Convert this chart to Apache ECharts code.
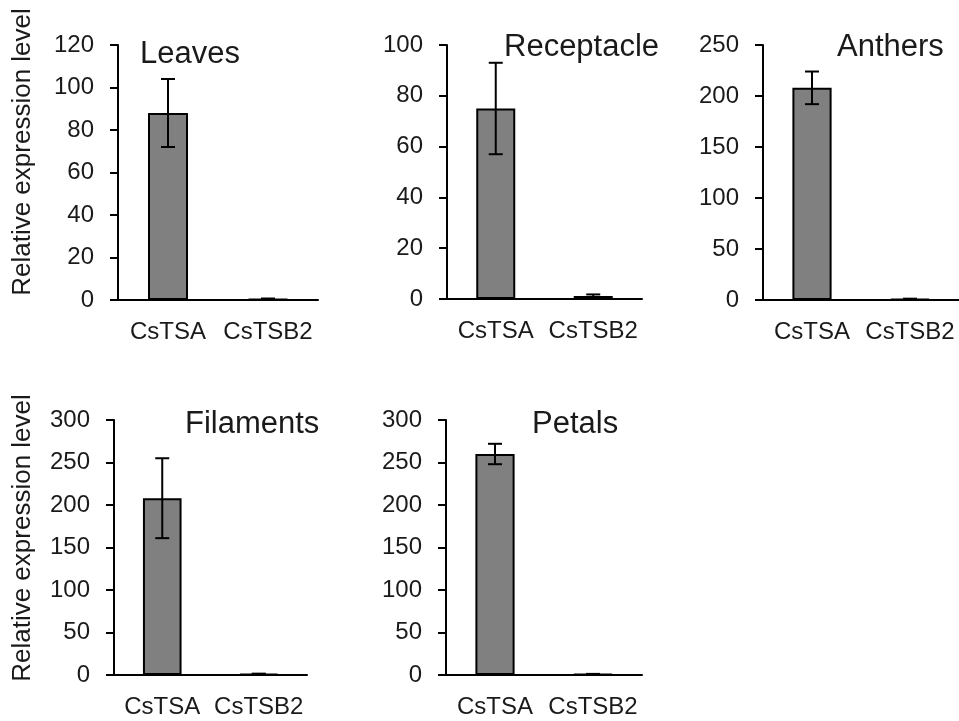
<!DOCTYPE html>
<html>
<head>
<meta charset="utf-8">
<script src="https://cdn.jsdelivr.net/npm/echarts@6/dist/echarts.min.js"></script>
<style>
  html, body { margin: 0; padding: 0; background: #fff; }
  #chart { width: 959px; height: 721px; }
</style>
</head>
<body>
<div id="chart"></div>
<script>
// data
const categories = ["CsTSA", "CsTSB2"];
const tissues = ["Leaves", "Receptacle", "Anthers", "Filaments", "Petals"];
const tsaMeans = [88, 75, 208, 208, 260];
const tsaErrors = [16, 18, 16, 47, 12];
const tsb2Means = [0.5, 1.2, 1, 1.2, 1];
const tsb2Errors = [0.2, 0.6, 0.3, 0.4, 0.3];
const yMax = [120, 100, 250, 300, 300];
const yStep = [20, 20, 50, 50, 50];
const yName = "Relative expression level";

// panel placement
const grids = [
  { left: 118, top: 45, width: 200, height: 255 },
  { left: 447, top: 45, width: 195, height: 254 },
  { left: 763, top: 45, width: 196, height: 255 },
  { left: 114, top: 420, width: 193, height: 255 },
  { left: 446, top: 420, width: 196, height: 255 },
];
const titlePos = [
  { left: 140, top: 39 },
  { left: 504, top: 32 },
  { left: 837, top: 32 },
  { left: 185, top: 409 },
  { left: 532, top: 409 },
];

const font = "Liberation Sans";
const textColor = "#1a1a1a";

const chart = echarts.init(document.getElementById("chart"));

const errorBarRender = (params, api) => {
  const x = api.value(0);
  const m = api.value(1);
  const e = api.value(2);
  const top = api.coord([x, m + e]);
  const bot = api.coord([x, m - e]);
  const hw = 7;
  const style = { stroke: "#000", lineWidth: 2 };
  return {
    type: "group",
    children: [
      { type: "line", shape: { x1: top[0], y1: top[1], x2: bot[0], y2: bot[1] }, style },
      { type: "line", shape: { x1: top[0] - hw, y1: top[1], x2: top[0] + hw, y2: top[1] }, style },
      { type: "line", shape: { x1: bot[0] - hw, y1: bot[1], x2: bot[0] + hw, y2: bot[1] }, style },
    ],
  };
};

const option = {
  animation: false,
  backgroundColor: "#fff",
  title: tissues.map((t, i) => ({
    text: t,
    left: titlePos[i].left,
    top: titlePos[i].top,
    padding: 0,
    textStyle: { fontFamily: font, fontSize: 31, fontWeight: "normal", color: textColor },
  })),
  grid: grids,
  xAxis: grids.map((g, i) => ({
    type: "category",
    gridIndex: i,
    data: categories,
    axisLine: { lineStyle: { color: "#000", width: 2 } },
    axisTick: { length: 8, lineStyle: { color: "#000", width: 2 } },
    axisLabel: { interval: 0, margin: 20, fontFamily: font, fontSize: 24, color: textColor },
  })),
  yAxis: grids.map((g, i) => ({
    type: "value",
    gridIndex: i,
    min: 0,
    max: yMax[i],
    interval: yStep[i],
    splitLine: { show: false },
    axisLine: { show: true, lineStyle: { color: "#000", width: 2 } },
    axisTick: { show: true, length: 8, lineStyle: { color: "#000", width: 2 } },
    axisLabel: { margin: 24, fontFamily: font, fontSize: 24, color: textColor },
  })),
  graphic: [
    { type: "text", x: 23, y: 152, rotation: Math.PI / 2,
      style: { text: yName, fontFamily: font, fontSize: 26, fill: textColor, textAlign: "center", textVerticalAlign: "middle" } },
    { type: "text", x: 23, y: 538, rotation: Math.PI / 2,
      style: { text: yName, fontFamily: font, fontSize: 26, fill: textColor, textAlign: "center", textVerticalAlign: "middle" } },
  ],
  series: tissues.flatMap((t, i) => [
    {
      name: t,
      type: "bar",
      xAxisIndex: i,
      yAxisIndex: i,
      barWidth: "40%",
      data: [tsaMeans[i], tsb2Means[i]],
      itemStyle: { color: "#808080", borderColor: "#000", borderWidth: 2 },
    },
    {
      name: t + " error",
      type: "custom",
      xAxisIndex: i,
      yAxisIndex: i,
      z: 3,
      renderItem: errorBarRender,
      encode: { x: 0, y: 1 },
      data: [
        [0, tsaMeans[i], tsaErrors[i]],
        [1, tsb2Means[i], tsb2Errors[i]],
      ],
    },
  ]),
};

chart.setOption(option);
</script>
</body>
</html>
